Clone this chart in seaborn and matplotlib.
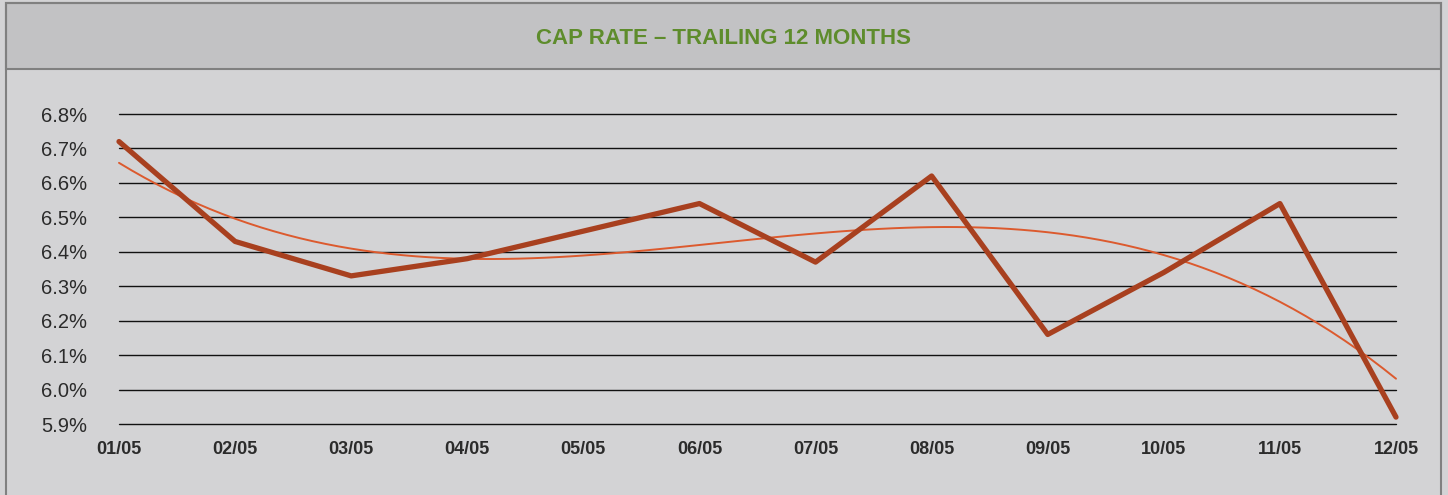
import numpy as np
import pandas as pd
import matplotlib
matplotlib.use("Agg")
import matplotlib.pyplot as plt
from matplotlib.patches import Rectangle
import seaborn as sns

months = ["01/05", "02/05", "03/05", "04/05", "05/05", "06/05",
          "07/05", "08/05", "09/05", "10/05", "11/05", "12/05"]
cap_rate = [6.72, 6.43, 6.33, 6.38, 6.46, 6.54, 6.37, 6.62, 6.16, 6.34, 6.54, 5.92]
y_ticks = [5.9, 6.0, 6.1, 6.2, 6.3, 6.4, 6.5, 6.6, 6.7, 6.8]
title = "CAP RATE – TRAILING 12 MONTHS"

sns.set_theme(style="white")
plt.rcParams['font.family'] = ['Liberation Sans', 'DejaVu Sans']

W, H = 1448, 495
fig = plt.figure(figsize=(W / 100, H / 100), dpi=100)
fig.patch.set_facecolor("#d3d3d5")

# title band and frame
fig.add_artist(Rectangle((6 / W, 1 - 69 / H), (1441 - 6) / W, (69 - 3) / H,
                         transform=fig.transFigure, facecolor="#c2c2c4",
                         edgecolor="#808080", linewidth=1.5, zorder=0))
fig.add_artist(Rectangle((6 / W, -0.01), (1441 - 6) / W, 1 - 3 / H + 0.01,
                         transform=fig.transFigure, facecolor="none",
                         edgecolor="#808080", linewidth=1.5, zorder=0))
fig.text(723 / W, 1 - 38 / H, title, ha="center", va="center",
         color="#5e8c2c", fontsize=16, fontweight="bold",
         family=['Liberation Sans', 'DejaVu Sans'])

ax = fig.add_axes([119 / W, 1 - 424 / H, (1396 - 119) / W, (424 - 114) / H])
ax.set_facecolor("none")

df = pd.DataFrame({"x": np.arange(len(months)), "rate": cap_rate})
sns.regplot(data=df, x="x", y="rate", order=3, ci=None, scatter=False,
            ax=ax, line_kws=dict(color="#dc5a2e", lw=1.4, zorder=3))
sns.lineplot(data=df, x="x", y="rate", ax=ax, color="#a8401f", lw=3.8,
             zorder=4)
for l in ax.lines:
    l.set_clip_on(False)

ax.set_xlim(0, len(months) - 1)
ax.set_ylim(5.9, 6.8)
ax.set_yticks(y_ticks)
ax.set_yticklabels([f"{v:.1f}%" for v in y_ticks], fontsize=14.5, color="#2b2b2b")
ax.set_xticks(np.arange(len(months)))
ax.set_xticklabels(months, fontsize=13, fontweight="bold", color="#2b2b2b")
ax.tick_params(axis="y", pad=23, length=0)
ax.tick_params(axis="x", pad=12, length=0)
ax.grid(axis="y", color="#111111", lw=1.0)
for g in ax.yaxis.get_gridlines():
    g.set_clip_on(False)
ax.set_axisbelow(True)
for s in ax.spines.values():
    s.set_visible(False)
ax.set_xlabel("")
ax.set_ylabel("")

fig.savefig("out.png", dpi=100, facecolor=fig.get_facecolor())
